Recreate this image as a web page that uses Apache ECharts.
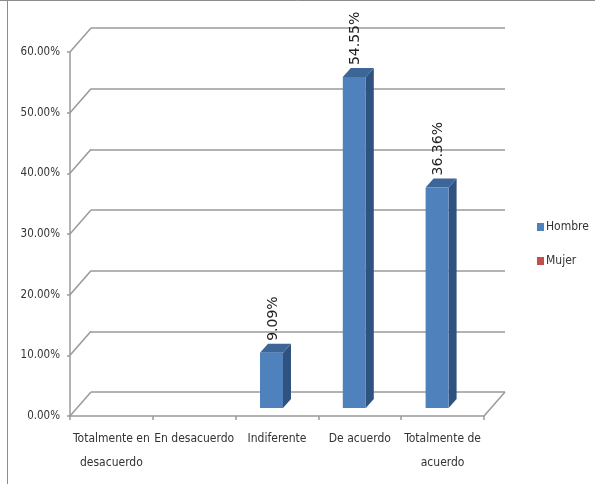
<!DOCTYPE html>
<html>
<head>
<meta charset="utf-8">
<script src="https://cdn.jsdelivr.net/npm/echarts@6/dist/echarts.min.js"></script>
<style>
  html, body { margin: 0; padding: 0; background: #fff; }
  #chart { width: 595px; height: 484px; }
</style>
</head>
<body>
<div id="chart"></div>
<script>
// Survey answers by category, share of respondents per group
const categories = ['Totalmente en\ndesacuerdo', 'En desacuerdo', 'Indiferente', 'De acuerdo', 'Totalmente de\nacuerdo'];
const hombre = [null, null, 9.09, 54.55, 36.36];
const mujer = [null, null, null, null, null];
const hombreLabels = [null, null, '9.09%', '54.55%', '36.36%'];
const yTicks = [0, 10, 20, 30, 40, 50, 60];

const FONT_AXIS = '"DejaVu Sans Condensed", "DejaVu Sans", sans-serif';
const GRID_COLOR = '#9a9a9a';
const DEPTH = [21, -24];   // wall depth offset

const chart = echarts.init(document.getElementById('chart'), null, { renderer: 'canvas' });

// 3D-looking column: front face, right side and top
function makeBarRenderer(colors, labels) {
  return function (params, api) {
    const v = api.value(1);
    if (v == null || isNaN(v)) return;
    const i = api.value(0);
    const top = api.coord([i, v]);
    const base = api.coord([i, 0]);
    const fy = -8;               // bar sits a little inside the floor
    const sx = 8, sy = -9;       // bar thickness
    const x0 = top[0] - 17, x1 = x0 + 23;
    const yt = top[1] + fy, yb = base[1] + fy;
    const children = [
      { type: 'polygon', shape: { points: [[x1, yt], [x1 + sx, yt + sy], [x1 + sx, yb + sy], [x1, yb]] },
        style: { fill: colors.side } },
      { type: 'polygon', shape: { points: [[x0, yt], [x0 + sx, yt + sy], [x1 + sx, yt + sy], [x1, yt]] },
        style: { fill: colors.top } },
      { type: 'rect', shape: { x: x0, y: yt, width: x1 - x0, height: yb - yt },
        style: { fill: colors.front } }
    ];
    const txt = labels && labels[params.dataIndex];
    if (txt) {
      children.push({
        type: 'text', x: (x0 + x1) / 2 + 1.5, y: yt + sy - 3, rotation: Math.PI / 2,
        style: { text: txt, x: 0, y: 0, align: 'left', textAlign: 'left',
                 verticalAlign: 'middle', textVerticalAlign: 'middle',
                 font: '14px "DejaVu Sans", sans-serif', fill: '#222' }
      });
    }
    return { type: 'group', children: children };
  };
}

// side-wall diagonals joining the value axis to the back wall, plus floor corner
function renderWallEdges(params, api) {
  const v = api.value(1);
  const p = api.coord([0, v]);
  const cs = params.coordSys;
  const x = cs.x;
  const children = [{
    type: 'line', shape: { x1: x, y1: p[1], x2: x + DEPTH[0], y2: p[1] + DEPTH[1] },
    style: { stroke: GRID_COLOR, lineWidth: 1.5 }
  }];
  if (v === 0) {
    const xr = cs.x + cs.width;
    children.push({
      type: 'line', shape: { x1: xr, y1: p[1], x2: xr + DEPTH[0], y2: p[1] + DEPTH[1] },
      style: { stroke: GRID_COLOR, lineWidth: 1.5 }
    });
  }
  return { type: 'group', children: children };
}

const frontGrid = { left: 70, right: 111, top: 52, bottom: 68 };
const backGrid = {
  left: frontGrid.left + DEPTH[0], right: frontGrid.right - DEPTH[0],
  top: frontGrid.top + DEPTH[1], bottom: frontGrid.bottom - DEPTH[1]
};

const option = {
  animation: false,
  backgroundColor: '#fff',
  grid: [
    Object.assign({ containLabel: false }, frontGrid),
    Object.assign({ containLabel: false }, backGrid)
  ],
  xAxis: [
    {
      type: 'category', gridIndex: 0, data: categories, boundaryGap: true,
      axisLine: { lineStyle: { color: GRID_COLOR, width: 1.5 } },
      axisTick: { show: true, length: 4, lineStyle: { color: GRID_COLOR, width: 1.5 } },
      axisLabel: {
        interval: 0, margin: 11, color: '#333',
        fontFamily: FONT_AXIS, fontSize: 12, lineHeight: 24
      },
      splitLine: { show: false }
    },
    { type: 'value', gridIndex: 1, show: false, min: 0, max: 1 }
  ],
  yAxis: [
    {
      type: 'value', gridIndex: 0, min: 0, max: 60, interval: 10,
      axisLine: { show: true, lineStyle: { color: GRID_COLOR, width: 1.5 } },
      axisTick: { show: true, length: 3, lineStyle: { color: GRID_COLOR, width: 1.5 } },
      axisLabel: {
        margin: 10, color: '#333', fontFamily: FONT_AXIS, fontSize: 11.5,
        formatter: v => v.toFixed(2) + '%'
      },
      splitLine: { show: false }
    },
    {
      type: 'value', gridIndex: 1, min: 0, max: 60, interval: 10,
      axisLine: { show: false }, axisTick: { show: false }, axisLabel: { show: false },
      splitLine: { show: true, lineStyle: { color: GRID_COLOR, width: 1.5 } }
    }
  ],
  legend: {
    orient: 'vertical', left: 532, top: 216,
    data: ['Hombre', 'Mujer'],
    icon: 'rect', itemWidth: 7, itemHeight: 8, itemGap: 22,
    textStyle: { fontFamily: FONT_AXIS, fontSize: 12, color: '#333', padding: [0, 0, 0, -3] }
  },
  series: [
    {
      name: 'Hombre', type: 'custom', xAxisIndex: 0, yAxisIndex: 0, z: 5,
      itemStyle: { color: '#4F81BD' },
      renderItem: makeBarRenderer({ front: '#4F81BD', side: '#30527E', top: '#3C6598' }, hombreLabels),
      data: hombre.map((v, i) => [i, v])
    },
    {
      name: 'Mujer', type: 'custom', xAxisIndex: 0, yAxisIndex: 0, z: 5,
      itemStyle: { color: '#C0504D' },
      renderItem: makeBarRenderer({ front: '#C0504D', side: '#8C3836', top: '#A24441' }, null),
      data: mujer.map((v, i) => [i, v])
    },
    {
      name: 'walls', type: 'custom', xAxisIndex: 0, yAxisIndex: 0, z: 1, silent: true,
      itemStyle: { color: GRID_COLOR },
      renderItem: renderWallEdges,
      data: yTicks.map(v => [0, v])
    }
  ],
  graphic: [
    { type: 'line', shape: { x1: 0, y1: 0.5, x2: 595, y2: 0.5 }, style: { stroke: '#8c8c8c', lineWidth: 1 }, silent: true },
    { type: 'line', shape: { x1: 7.5, y1: 0, x2: 7.5, y2: 484 }, style: { stroke: '#8c8c8c', lineWidth: 1 }, silent: true }
  ]
};

chart.setOption(option);
</script>
</body>
</html>
